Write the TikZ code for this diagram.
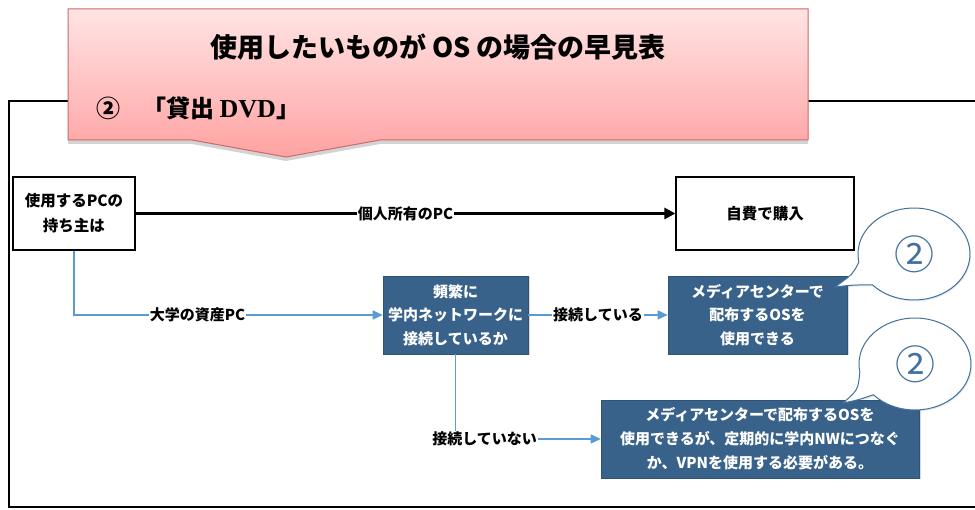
\documentclass[tikz,border=0pt]{standalone}
\usepackage{fontspec}
\setmainfont{Noto Sans CJK JP}
\newfontfamily\serifen{Liberation Serif}
\usetikzlibrary{arrows.meta,shadows,calc}
\definecolor{boxblue}{RGB}{56,98,138}
\definecolor{lineblue}{RGB}{91,155,213}
\definecolor{bubbleblue}{RGB}{65,113,156}
\definecolor{pinkbd}{RGB}{205,105,105}
\definecolor{pinktop}{RGB}{255,228,228}
\definecolor{pinkbot}{RGB}{255,162,162}
\begin{document}
\begin{tikzpicture}[x=1pt,y=1pt,
  whitebox/.style={draw=black, line width=1.2pt, fill=white, align=center,
    minimum height=73, inner sep=0pt, font=\fontsize{15.5}{25}\selectfont\bfseries,
    drop shadow={opacity=0.25, shadow xshift=1.2pt, shadow yshift=-1.2pt}},
  bluebox/.style={draw=boxblue!85!black, line width=0.6pt, fill=boxblue, text=white, align=center,
    minimum height=78, inner sep=0pt,
    drop shadow={opacity=0.3, shadow xshift=1.5pt, shadow yshift=-1.5pt}},
  lab/.style={fill=white, inner sep=1pt, font=\fontsize{15}{18}\selectfont\bfseries},
  blackarrow/.style={line width=3pt, -{Triangle[length=11pt,width=11pt]}},
  bluearrow/.style={draw=lineblue, line width=1.6pt, -{Triangle[length=10pt,width=9pt]}},
  frameline/.style={line width=2pt, black},
  bubble/.style={draw=bubbleblue, line width=1pt, fill=white, line join=round,
    drop shadow={opacity=0.15, shadow xshift=1pt, shadow yshift=-1.5pt, fill=bubbleblue}},
  bubbletext/.style={text=bubbleblue, font=\fontsize{40}{40}\selectfont}
]
\useasboundingbox (0,0) rectangle (975,510);

% outer frame
\draw[frameline] (975,409) -- (9,409) -- (9,3) -- (975,3);

% header callout
\path[draw=pinkbd, line width=1pt, top color=pinktop, bottom color=pinkbot,
  drop shadow={opacity=0.35, shadow xshift=0pt, shadow yshift=-4pt}]
  (68,501) -- (808,501) -- (808,370) -- (380,370) -- (286,353) -- (192,370) -- (68,370) -- cycle;
\node (title) [font=\fontsize{27}{27}\selectfont\bfseries] at (438,463) {使用したいものが OS の場合の早見表};
\node (sub) [anchor=west, font=\fontsize{24}{24}\selectfont\bfseries, inner sep=0pt] at (96,402)
  {②\hspace{22pt}「貸出 {\serifen\fontsize{26}{26}\selectfont DVD}」};

% boxes
\node (A) [whitebox, minimum width=122] at (74,296.5) {使用するPCの\\持ち主は};
\node (B) [whitebox, minimum width=178] at (765,296.5) {自費で購入};
\node (C) [bluebox, minimum width=145, font=\fontsize{15}{23.5}\selectfont\bfseries] at (455.5,195)
  {頻繁に\\学内ネットワークに\\接続しているか};
\node (D) [bluebox, minimum width=179, font=\fontsize{15}{23.5}\selectfont\bfseries] at (757.5,195)
  {メディアセンターで\\配布するOSを\\使用できる};
\node (E) [bluebox, minimum width=318, font=\fontsize{15}{24}\selectfont\bfseries] at (760,71)
  {メディアセンターで配布するOSを\\使用できるが、定期的に学内NWにつなぐ\\か、VPNを使用する必要がある。};

% connectors
\draw[blackarrow] (A.east) -- node[lab] {個人所有のPC} (B.west);
\draw[bluearrow] (A.south) |- node[lab, pos=0.7] {大学の資産PC} (C.west);
\draw[bluearrow] (C.east) -- node[lab] {接続している} (D.west);
\draw[bluearrow] (C.south) |- node[lab, pos=0.6] {接続していない} (E.west);

% speech bubbles
\coordinate (b1c) at (914,256);
\coordinate (b1t) at (835,223);
\draw[bubble] (b1t) .. controls (852,225) .. ($(b1c)+(222:56pt and 46pt)$)
  arc[start angle=222, end angle=550, x radius=56pt, y radius=46pt]
  .. controls (853,236) .. (b1t) -- cycle;
\node (n1) [bubbletext] at (b1c) {②};

\coordinate (b2c) at (915,146);
\coordinate (b2t) at (843,107);
\draw[bubble] (b2t) .. controls (858,110) .. ($(b2c)+(222:56pt and 46pt)$)
  arc[start angle=222, end angle=550, x radius=56pt, y radius=46pt]
  .. controls (858,120) .. (b2t) -- cycle;
\node (n2) [bubbletext] at (b2c) {②};
\end{tikzpicture}
\end{document}
